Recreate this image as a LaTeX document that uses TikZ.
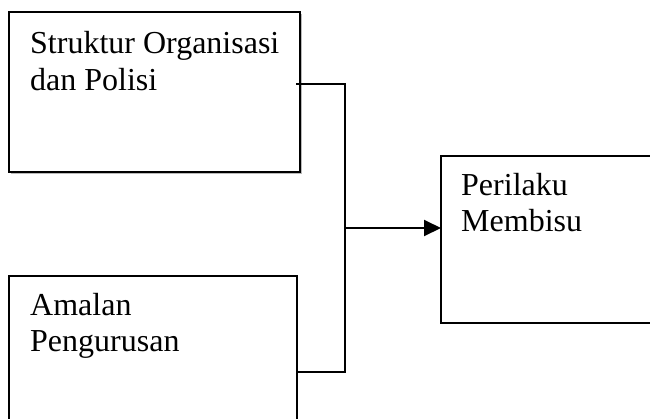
\documentclass[tikz,border=0pt]{standalone}
\usepackage{fontspec}
\setmainfont{Liberation Serif}
\usetikzlibrary{arrows.meta,shadows}
\begin{document}
\begin{tikzpicture}[x=1pt,y=-1pt,
  boxstyle/.style={draw=black,line width=2pt,fill=white},
  labelstyle/.style={inner sep=0pt,anchor=base west,font=\fontsize{32}{37}\selectfont},
  linkstyle/.style={draw=black,line width=2pt},
  arrowstyle/.style={linkstyle,-{Triangle[length=17pt,width=16pt]}}]
\useasboundingbox (0,0) rectangle (650,418);
\clip (0,0) rectangle (650,418);
% boxes
\path[fill=gray!55] (11,14) rectangle (302,174);
\draw[boxstyle] (9,12) rectangle (300,172);
\draw[boxstyle] (9,276) rectangle (297,440);
\draw[boxstyle] (441,156) rectangle (670,323);
\coordinate (b3w) at (441,228);
% labels
\node[labelstyle] (t1a) at (30,53) {Struktur Organisasi};
\node[labelstyle] (t1b) at (30,90) {dan Polisi};
\node[labelstyle] (t2a) at (30,315) {Amalan};
\node[labelstyle] (t2b) at (30,351) {Pengurusan};
\node[labelstyle] (t3a) at (461,195) {Perilaku};
\node[labelstyle] (t3b) at (461,231) {Membisu};
% connectors
\coordinate (s1) at (296,84);
\coordinate (s2) at (297,372);
\coordinate (j1) at (345,84);
\coordinate (j2) at (345,372);
\coordinate (jm) at (345,228);
\draw[linkstyle] (s1) -- (j1) -- (j2) -- (s2);
\draw[arrowstyle] (jm) -- (b3w);
\end{tikzpicture}
\end{document}
